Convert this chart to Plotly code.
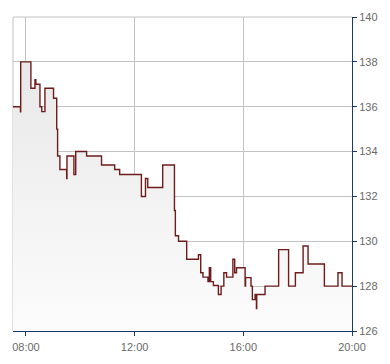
import plotly.graph_objects as go

DAY = "2024-01-02 "

times = [
    "07:20:00", "07:48:00", "07:48:30", "08:11:00", "08:20:00", "08:22:00",
    "08:31:00", "08:35:00", "08:42:00", "09:01:00", "09:08:00", "09:10:00",
    "09:15:00", "09:30:00", "09:30:40", "09:46:00", "09:50:00", "10:14:00",
    "10:47:00", "11:16:00", "11:27:00", "12:15:00", "12:24:00", "12:29:00",
    "13:02:00", "13:28:00", "13:30:00", "13:37:00", "13:55:00", "14:21:00",
    "14:26:00", "14:31:00", "14:42:00", "14:45:00", "14:48:00", "14:54:00",
    "15:05:00", "15:11:00", "15:17:00", "15:23:00", "15:37:00", "15:41:00",
    "15:45:00", "16:04:00", "16:05:00", "16:17:00", "16:20:00", "16:26:00",
    "16:29:00", "16:29:40", "16:48:00", "17:18:00", "17:40:00", "17:55:00",
    "18:12:00", "18:23:00", "18:59:00", "19:29:00", "19:38:00", "20:00:00",
]
prices = [
    136.0, 135.77, 138.0, 136.82, 137.2, 137.0,
    136.0, 135.78, 136.82, 136.38, 135.0, 133.8,
    133.2, 132.8, 133.8, 132.98, 134.0, 133.8,
    133.4, 133.2, 132.98, 132.0, 132.8, 132.4,
    133.4, 131.37, 130.25, 130.0, 129.2, 129.4,
    128.6, 128.4, 128.2, 128.82, 128.2, 128.03,
    127.63, 128.0, 128.6, 128.4, 129.2, 128.6,
    128.82, 128.0, 128.38, 128.0, 127.4, 127.63,
    127.0, 127.63, 128.0, 129.63, 128.0, 128.6,
    129.79, 128.99, 128.0, 128.6, 128.0, 128.0,
]

x_range = ["07:31:30", "20:00:00"]
y_ticks = [126, 128, 130, 132, 134, 136, 138, 140]
x_ticks = ["08:00:00", "12:00:00", "16:00:00", "20:00:00"]
x_tick_labels = ["08:00", "12:00", "16:00", "20:00"]

x_vals = [DAY + t for t in times]

fig = go.Figure()
fig.add_trace(go.Scatter(
    x=x_vals, y=prices, mode="lines",
    line=dict(shape="hv", color="#6e1c1c", width=1.4),
    fill="tozeroy",
    fillgradient=dict(type="vertical", start=126, stop=139,
                      colorscale=[[0, "#fdfdfd"], [1, "#e7e7e7"]]),
    hoverinfo="skip",
))

grid = "#c3c3c3"
navy = "#1b3a6b"
font = dict(family="Liberation Sans, Arial, sans-serif", size=11, color="#6a6a6a")

fig.update_layout(
    width=390, height=364,
    margin=dict(l=13, r=38, t=11, b=24),
    paper_bgcolor="white", plot_bgcolor="white",
    showlegend=False,
    font=font,
    xaxis=dict(
        type="date",
        range=[DAY + x_range[0], DAY + x_range[1]],
        tickvals=[DAY + t for t in x_ticks],
        ticktext=x_tick_labels,
        showgrid=True, gridcolor=grid, gridwidth=1,
        showline=True, linecolor=navy, linewidth=1,
        ticks="outside", ticklen=4, tickcolor=navy,
        ticklabelstandoff=2,
        zeroline=False, fixedrange=True,
    ),
    yaxis=dict(
        range=[126, 140], side="right",
        tickvals=y_ticks,
        showgrid=True, gridcolor=grid, gridwidth=1,
        showline=True, linecolor=navy, linewidth=1,
        ticks="outside", ticklen=4, tickcolor=navy,
        zeroline=False, fixedrange=True,
    ),
    shapes=[
        dict(type="line", xref="paper", yref="paper", x0=0, x1=1, y0=1, y1=1,
             line=dict(color=grid, width=1), layer="below"),
        dict(type="line", xref="paper", yref="paper", x0=0, x1=0, y0=0, y1=1,
             line=dict(color=grid, width=1), layer="below"),
    ],
)

fig.write_html("out.html")
